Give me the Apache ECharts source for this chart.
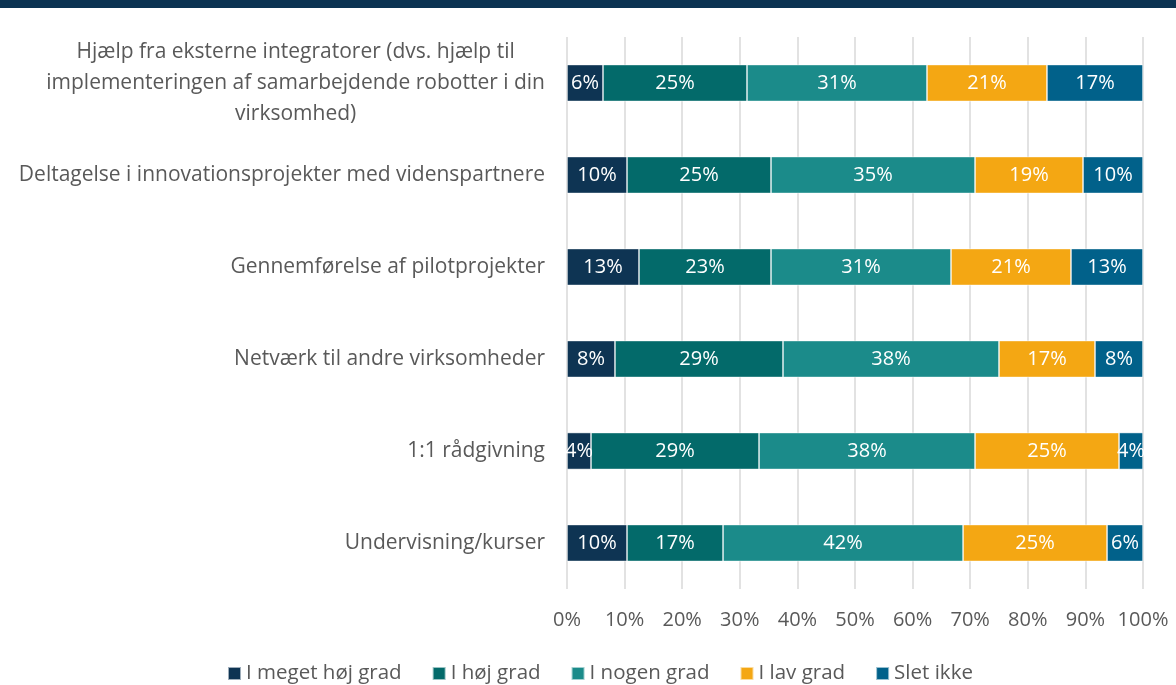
<!DOCTYPE html>
<html><head><meta charset="utf-8">
<script src="https://cdn.jsdelivr.net/npm/echarts@6/dist/echarts.min.js"></script>
<style>html,body{margin:0;padding:0;background:#fff}#c{width:1176px;height:685px}</style>
</head><body><div id="c"></div>
<script>
var categories = [
  "Hjælp fra eksterne integratorer (dvs. hjælp til\nimplementeringen af samarbejdende robotter i din\nvirksomhed)",
  "Deltagelse i innovationsprojekter med videnspartnere",
  "Gennemførelse af pilotprojekter",
  "Netværk til andre virksomheder",
  "1:1 rådgivning",
  "Undervisning/kurser"
];
var seriesNames = ["I meget høj grad", "I høj grad", "I nogen grad", "I lav grad", "Slet ikke"];
var meget = [6.25, 10.42, 12.5, 8.33, 4.17, 10.42];
var hoej = [25.0, 25.0, 22.92, 29.17, 29.17, 16.67];
var nogen = [31.25, 35.42, 31.25, 37.5, 37.5, 41.67];
var lav = [20.83, 18.75, 20.83, 16.67, 25.0, 25.0];
var slet = [16.67, 10.42, 12.5, 8.33, 4.17, 6.25];
var tickLabels = ["0%","10%","20%","30%","40%","50%","60%","70%","80%","90%","100%"];

var colors = ["#0e3453", "#036a6a", "#1b8b8a", "#f4a713", "#01618a"];
var values = [meget, hoej, nogen, lav, slet];
var font = "Open Sans";

var chart = echarts.init(document.getElementById('c'));
var series = seriesNames.map(function(n, i){
  return {
    name: n, type: 'bar', stack: 'a', data: values[i].slice().reverse(),
    barWidth: 37,
    itemStyle: {color: colors[i], borderColor: 'rgba(255,255,255,0.6)', borderWidth: 0.8},
    label: {show: true, position: 'inside', color: '#fff', fontFamily: font, fontSize: 20,
      formatter: function(p){ return Math.round(p.value) + '%'; }}
  };
});
chart.setOption({
  animation: false,
  color: colors,
  graphic: [{type: 'rect', shape: {x: 0, y: 0, width: 1176, height: 8}, style: {fill: '#0b3352'}}],
  grid: {left: 567, right: 33, top: 37, bottom: 96, containLabel: false},
  xAxis: {type: 'value', min: 0, max: 100, interval: 10,
    axisLine: {show: false}, axisTick: {show: false},
    splitLine: {show: true, lineStyle: {color: '#d9d9d9', width: 1.5}},
    axisLabel: {margin: 21, color: '#595959', fontFamily: font, fontSize: 20,
      formatter: function(v){ return tickLabels[Math.round(v/10)]; }}
  },
  yAxis: {type: 'category', data: categories.slice().reverse(),
    axisLine: {show: false}, axisTick: {show: false},
    axisLabel: {margin: 22, color: '#595959', fontFamily: font, fontSize: 21, lineHeight: 31,
      formatter: function(v){ return v.split('\n').map(function(l){ return '{c|' + l + '}'; }).join('\n'); },
      rich: {c: {align: 'center', color: '#595959', fontFamily: font, fontSize: 21, lineHeight: 31}}
    }
  },
  legend: {top: 658, left: 222, itemWidth: 13, itemHeight: 13, itemGap: 30, icon: 'rect',
    textStyle: {color: '#595959', fontFamily: font, fontSize: 20.5}},
  series: series
});
</script></body></html>
